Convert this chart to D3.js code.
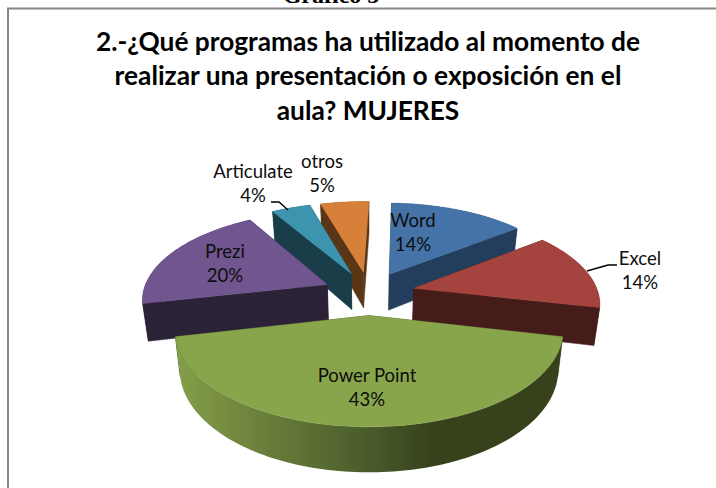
<!DOCTYPE html>
<html><head><meta charset="utf-8">
<script src="https://cdn.jsdelivr.net/npm/d3@7/dist/d3.min.js"></script>
<style>html,body{margin:0;padding:0;background:#fff;overflow:hidden}svg{display:block}</style>
</head><body><svg id="c" width="716" height="488"></svg>
<script>
const categories = ["Word","Excel","Power Point","Prezi","Articulate","otros"];
const values = [14,14,43,20,4,5];
const percentLabels = ["14%","14%","43%","20%","4%","5%"];
const titleLines = ["2.-¿Qué programas ha utilizado al momento de","realizar una presentación o exposición en el","aula? MUJERES"];
const topColors = ["#4673a7","#a5443f","#88a54c","#71558e","#3d94ae","#d6803a"];
const sideColors = ["#233e5c","#461c1a","#37421c","#2b2238","#193d49","#5a3516"];
const drawOrder = ["otros","Word","Articulate","Prezi","Excel","Power Point"];

// layout
const W=716,H=488;
const P={cx:369,cy:293,fx:184.5,fy:87,k:0.15,explode:0.25,depth:37,inset:0.975,rot:1.8*Math.PI/180};
const labelAt={ "Word":[413,221],"Excel":[640,259],"Power Point":[367,376],"Prezi":[225,252],"Articulate":[253,172],"otros":[322,162]};
const leaders={ "Excel":[[587,271],[608,265],[617,265]], "Articulate":[[271,202],[279,202],[288,210]] };

const svg=d3.select("#c");
const defs=svg.append("defs");
const g=defs.append("linearGradient").attr("id","ppSide").attr("gradientUnits","userSpaceOnUse")
  .attr("x1",175).attr("x2",565).attr("y1",0).attr("y2",0);
[[0,"#84a04a"],[0.15,"#74893f"],[0.42,"#526630"],[0.66,"#37421c"],[1,"#37421c"]]
  .forEach(s=>g.append("stop").attr("offset",s[0]).attr("stop-color",s[1]));

// frame
svg.append("path").attr("d",`M8,${H}V8.5H${W}`).attr("fill","none").attr("stroke","#868686").attr("stroke-width",2);

// clipped heading above the frame
svg.append("text").attr("x",331).attr("y",3).attr("text-anchor","middle")
  .attr("font-family","Liberation Serif").attr("font-weight","bold").attr("font-size",24).attr("fill","#000").text("Gráfico 5");

// title
titleLines.forEach((t,i)=>svg.append("text").attr("x",368).attr("y",[51,85,120][i]).attr("text-anchor","middle")
  .attr("font-family","Lato").attr("font-weight","bold").attr("font-size",26.3).attr("fill","#000").text(t));

// perspective projection of the ground plane
function proj(X,Y,low){
  const w=1+P.k*Y;
  let x=P.fx*X/w, y=-P.fy*Y/w;
  if(low){x*=P.inset; y+=P.depth/w;}
  return [P.cx+x,P.cy+y];
}
const pie=d3.pie().value(d=>d).sort(null).startAngle(P.rot).endAngle(P.rot+2*Math.PI);
const arcs=pie(values).map((a,i)=>{
  const mid=(a.startAngle+a.endAngle)/2;
  return {name:categories[i],pct:percentLabels[i],top:topColors[i],side:sideColors[i],a0:a.startAngle,a1:a.endAngle,
    ox:P.explode*Math.sin(mid),oy:P.explode*Math.cos(mid)};
});
const line=d3.line();
function ptsArc(s,low){
  const n=Math.max(8,Math.ceil((s.a1-s.a0)*40)),pts=[];
  for(let j=0;j<=n;j++){const t=s.a0+(s.a1-s.a0)*j/n;pts.push(proj(s.ox+Math.sin(t),s.oy+Math.cos(t),low));}
  return pts;
}
drawOrder.forEach(name=>{
  const s=arcs.find(d=>d.name===name);
  const gr=svg.append("g");
  const upApex=proj(s.ox,s.oy,false),lowApex=proj(s.ox,s.oy,true);
  const up=ptsArc(s,false),low=ptsArc(s,true);
  [[up[0],low[0]],[up[up.length-1],low[low.length-1]]].forEach(e=>{
    gr.append("path").attr("d",line([upApex,e[0],e[1],lowApex])+"Z").attr("fill",s.side).attr("stroke",s.side).attr("stroke-width",0.5);
  });
  gr.append("path").attr("d",line(up.concat(low.slice().reverse()))+"Z")
    .attr("fill",name==="Power Point"?"url(#ppSide)":s.side);
  gr.append("path").attr("d",line([upApex].concat(up))+"Z").attr("fill",s.top).attr("stroke",s.top).attr("stroke-width",0.5);
});

// leaders
Object.values(leaders).forEach(l=>svg.append("path").attr("d",line(l)).attr("fill","none").attr("stroke","#000").attr("stroke-width",1.4));

// labels
arcs.forEach(s=>{
  const [x,y]=labelAt[s.name];
  [s.name,s.pct].forEach((t,i)=>svg.append("text").attr("x",x).attr("y",y+i*24+6).attr("text-anchor","middle")
    .attr("font-family","Lato").attr("font-size",18.5).attr("fill","#0d0d0d").text(t));
});
</script></body></html>
